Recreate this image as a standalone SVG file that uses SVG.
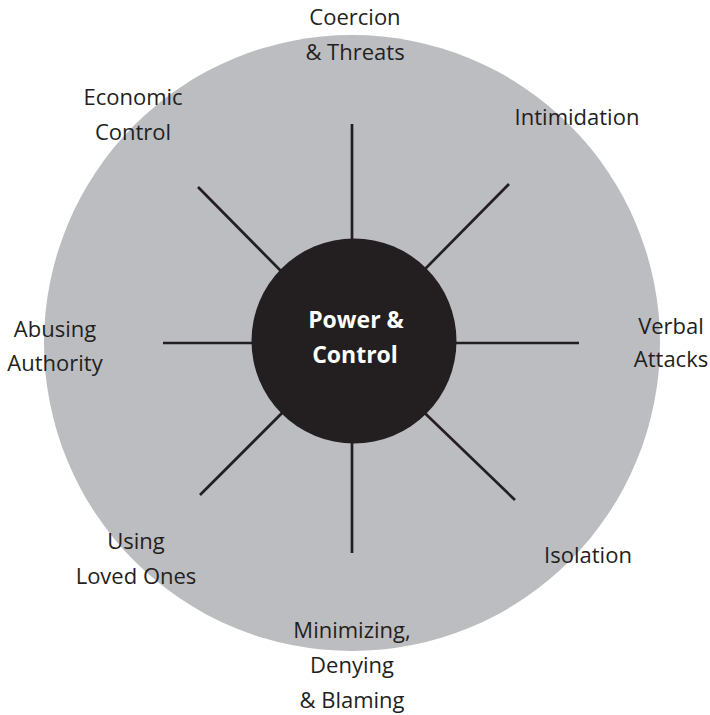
<svg xmlns="http://www.w3.org/2000/svg" width="710" height="715" viewBox="0 0 710 715">
<style>
.lbl{font-family:"Open Sans","Liberation Sans",sans-serif;font-size:22px;fill:#231f20;text-anchor:middle}
.title{font-family:"Open Sans","Liberation Sans",sans-serif;font-size:23px;font-weight:bold;fill:#ffffff;text-anchor:middle}
.spoke{stroke:#231f20;stroke-width:2.7;fill:none}
</style>
<rect width="710" height="715" fill="#ffffff"/>
<g id="outer"><circle cx="352" cy="343" r="308" fill="#bcbdc0"/></g>
<g id="connectors">
<line class="spoke" x1="352" y1="124" x2="352" y2="343"/>
<line class="spoke" x1="352" y1="553" x2="352" y2="343"/>
<line class="spoke" x1="163" y1="343" x2="352" y2="343"/>
<line class="spoke" x1="579" y1="343" x2="352" y2="343"/>
<line class="spoke" x1="198" y1="187" x2="352" y2="343"/>
<line class="spoke" x1="509" y1="184" x2="352" y2="343"/>
<line class="spoke" x1="200" y1="495" x2="352" y2="343"/>
<line class="spoke" x1="515" y1="500" x2="352" y2="343"/>
</g>
<g id="center">
<circle cx="354" cy="341" r="102.5" fill="#231f20"/>
<text class="title" x="356" y="328">Power &amp;</text>
<text class="title" x="355" y="363">Control</text>
</g>
<g id="coercion"><text class="lbl" x="355" y="25">Coercion</text><text class="lbl" x="355" y="60">&amp; Threats</text></g>
<g id="intimidation"><text class="lbl" x="577" y="125">Intimidation</text></g>
<g id="verbal"><text class="lbl" x="671" y="334">Verbal</text><text class="lbl" x="671" y="367">Attacks</text></g>
<g id="isolation"><text class="lbl" x="588" y="563">Isolation</text></g>
<g id="minimizing"><text class="lbl" x="352" y="638">Minimizing,</text><text class="lbl" x="352" y="673">Denying</text><text class="lbl" x="352" y="708">&amp; Blaming</text></g>
<g id="loved"><text class="lbl" x="136" y="549">Using</text><text class="lbl" x="136" y="584">Loved Ones</text></g>
<g id="abusing"><text class="lbl" x="55" y="337">Abusing</text><text class="lbl" x="55" y="371">Authority</text></g>
<g id="economic"><text class="lbl" x="133" y="105">Economic</text><text class="lbl" x="133" y="140">Control</text></g>
</svg>
